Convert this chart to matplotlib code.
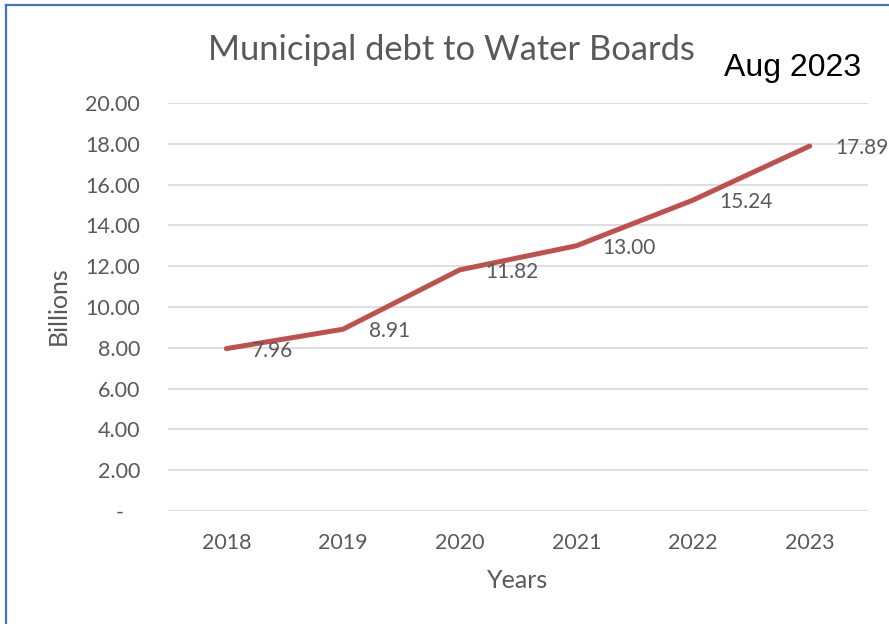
import matplotlib.pyplot as plt
from matplotlib.lines import Line2D
from matplotlib.ticker import FuncFormatter

# ---------------------------------------------------------------------------
# Data
# ---------------------------------------------------------------------------
years = ["2018", "2019", "2020", "2021", "2022", "2023"]
debt_billions = [7.96, 8.91, 11.82, 13.00, 15.24, 17.89]
y_ticks = [0, 2, 4, 6, 8, 10, 12, 14, 16, 18, 20]

W, H = 889, 624
TEXT_GREY = "#595959"
LINE_RED = "#C0504D"
GRID_GREY = "#D9D9D9"
FONT = "Lato"

fig = plt.figure(figsize=(W / 100, H / 100), dpi=100)


def fx(px):
    return px / W


def fy(py):
    return 1 - py / H


# plot area in pixel coordinates
ax = fig.add_axes([fx(168), fy(511), fx(868) - fx(168), fy(103) - fy(511)])

x = list(range(len(years)))
ax.plot(x, debt_billions, color=LINE_RED, linewidth=3.6, solid_capstyle="round",
        solid_joinstyle="round", zorder=3)

for xi, v in zip(x, debt_billions):
    ax.annotate(f"{v:.2f}", (xi, v), textcoords="offset pixels", xytext=(26, -2),
                ha="left", va="center", fontsize=15, color=TEXT_GREY, family=FONT)

ax.set_xlim(-0.5, len(years) - 0.5)
ax.set_ylim(0, 20)
ax.set_xticks(x)
ax.set_xticklabels(years)
ax.set_yticks(y_ticks)
ax.yaxis.set_major_formatter(FuncFormatter(lambda v, _: "-   " if v == 0 else f"{v:.2f}"))

ax.grid(axis="y", color=GRID_GREY, linewidth=1.2)
ax.set_axisbelow(True)
for s in ax.spines.values():
    s.set_visible(False)
ax.tick_params(axis="both", length=0, labelsize=15.5, labelcolor=TEXT_GREY)
ax.tick_params(axis="y", pad=20)
ax.tick_params(axis="x", pad=16)
for lbl in ax.get_xticklabels() + ax.get_yticklabels():
    lbl.set_family(FONT)

# titles and axis labels
fig.text(fx(451), fy(50), "Municipal debt to Water Boards", ha="center", va="center",
         fontsize=24.8, color=TEXT_GREY, family=FONT)
fig.text(fx(793), fy(68), "Aug 2023", ha="center", va="center",
         fontsize=23, color="black", family="Liberation Sans")
fig.text(fx(58), fy(306), "Billions", ha="center", va="center", rotation=90,
         fontsize=18, color=TEXT_GREY, family=FONT)
fig.text(fx(518), fy(580), "Years", ha="center", va="center",
         fontsize=18, color=TEXT_GREY, family=FONT)

# chart frame (left and top edges)
fig.add_artist(Line2D([fx(6), fx(6)], [0, fy(5)], color="#4472C4", linewidth=1.6))
fig.add_artist(Line2D([fx(6), 1], [fy(5), fy(5)], color="#4472C4", linewidth=1.6))

fig.savefig("out.png", dpi=100)
